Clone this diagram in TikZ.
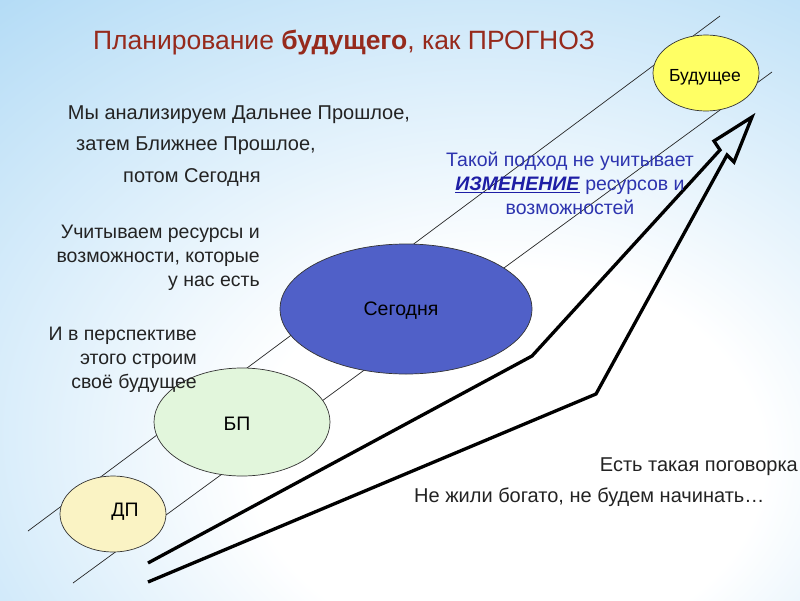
\documentclass[tikz,border=0pt]{standalone}
\usepackage{fontspec}
\setmainfont{Liberation Sans}
\usetikzlibrary{shapes.geometric}
\definecolor{bgblue}{RGB}{172,216,245}
\definecolor{titlered}{RGB}{150,42,28}
\definecolor{txtblue}{RGB}{45,52,175}
\definecolor{izmblue}{RGB}{30,30,165}
\definecolor{segfill}{RGB}{80,96,200}
\definecolor{bpfill}{RGB}{226,246,220}
\definecolor{dpfill}{RGB}{250,243,196}
\definecolor{budfill}{RGB}{255,255,100}
\definecolor{txtgray}{RGB}{35,35,35}
\pgfdeclareradialshading{bgshade}{\pgfpoint{8bp}{-16bp}}{color(0bp)=(white); color(16bp)=(white); color(48bp)=(bgblue); color(100bp)=(bgblue)}
\begin{document}
\begin{tikzpicture}[x=1pt,y=-1pt,
  thinline/.style={draw=black!85, line width=0.7pt},
  blob/.style={ellipse, draw=black!80, line width=0.7pt, inner sep=0pt},
  body/.style={font=\fontsize{20}{23}\selectfont, text=txtgray, inner sep=0pt},
  side/.style={font=\fontsize{19.5}{24}\selectfont, text=txtgray, inner sep=0pt, align=right, anchor=east},
  lbl/.style={font=\fontsize{19.5}{22}\selectfont, text=black, inner sep=0pt}]
\useasboundingbox (0,0) rectangle (800,600);
\shade[shading=bgshade] (0,0) rectangle (800,600);
% guide lines
\coordinate (l1a) at (28,531);
\coordinate (l1b) at (720,16);
\coordinate (l2a) at (73,583);
\coordinate (l2b) at (772,72);
\draw[thinline] (l1a) -- (l1b);
\draw[thinline] (l2a) -- (l2b);
% ellipses
\node[blob, fill=dpfill, minimum width=106, minimum height=76] (dp) at (113,514) {};
\node[blob, fill=bpfill, minimum width=176, minimum height=108] (bp) at (242,422) {};
\node[blob, fill=segfill, minimum width=252, minimum height=130] (seg) at (406,309) {};
\node[blob, fill=budfill, minimum width=106, minimum height=76] (bud) at (706,73) {};
% arrow
\draw[line width=3.3pt, line join=miter, miter limit=6] (148,563) -- (532,356) -- (720,150) -- (714,141) -- (752,117) -- (734,162) -- (727,155) -- (596,394) -- (148,582);
% labels
\node[lbl] (tdp) at (125,512) {ДП};
\node[lbl] (tbp) at (237,424) {БП};
\node[lbl] (tseg) at (401,311) {Сегодня};
\node[lbl, font=\fontsize{17.5}{20}\selectfont] (tbud) at (705,77) {Будущее};
% texts
\node[font=\fontsize{26.5}{30}\selectfont, text=titlered, inner sep=0pt] (title) at (344,43) {Планирование \textbf{будущего}, как ПРОГНОЗ};
\node[body] (t1) at (239,115) {Мы анализируем Дальнее Прошлое,};
\node[body] (t2) at (196,146) {затем Ближнее Прошлое,};
\node[body] (t3) at (192,178) {потом Сегодня};
\node[side] (t4) at (260,258) {Учитываем ресурсы и\\возможности, которые\\у нас есть};
\node[side, text depth=0pt] (t5) at (197,358) {И в перспективе\\этого строим\\своё будущее};
\node[font=\fontsize{19.5}{24}\selectfont, text=txtblue, inner sep=0pt, align=center] (t6) at (570,183) {Такой подход не учитывает\\{\color{izmblue}\underline{\textbf{\textit{ИЗМЕНЕНИЕ}}}} ресурсов и\\возможностей};
\node[body, anchor=east] (t7) at (798,467) {Есть такая поговорка};
\node[body, anchor=west] (t8) at (414,497) {Не жили богато, не будем начинать…};
\end{tikzpicture}
\end{document}
